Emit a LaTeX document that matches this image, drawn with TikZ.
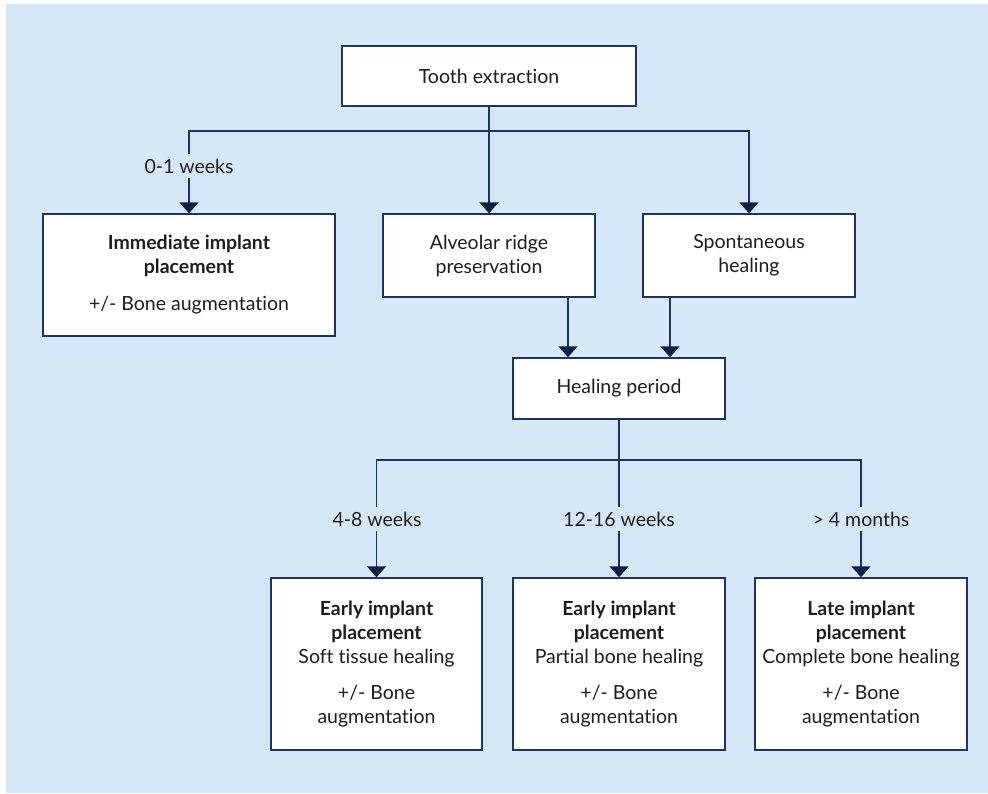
\documentclass[tikz,border=0pt]{standalone}
\usepackage{fontspec}
\setmainfont[Ligatures = NoCommon]{Lato}
\usetikzlibrary{positioning}
\usetikzlibrary{arrows.meta}

\definecolor{bgblue}{RGB}{214,232,248}
\definecolor{navy}{RGB}{30,52,96}
\definecolor{tipnavy}{RGB}{12,32,70}
\definecolor{txtgray}{RGB}{30,30,30}

\tikzset{
	stagebox/.style={draw = navy, line width = 1.4pt, fill = white, text = txtgray, align = center, inner sep = 0pt, font = \fontsize{19.5}{24}\selectfont},
	flowline/.style={navy, line width = 1.6pt},
	flowarrow/.style={flowline, -{Triangle[width = 19pt, length = 11pt, color = tipnavy]}},
	timelabel/.style={fill = bgblue, text = txtgray, inner xsep = 3pt, inner ysep = 5pt, font = \fontsize{19.5}{24}\selectfont}
}

\begin{document}
\begin{tikzpicture}[x = 1pt, y = -1pt]
							\useasboundingbox (0, 0) rectangle (988, 793);
							\fill[bgblue] (6, 4) rectangle (988, 793);
							\node[stagebox, minimum width = 294pt, minimum height = 60pt] (tooth) at (489, 76) {Tooth extraction};
							\node[stagebox, minimum width = 292pt, minimum height = 122pt] (immed) at (189, 275) {\textbf{Immediate implant}\\\textbf{placement}\\[13pt]+/- Bone augmentation};
							\node[stagebox, minimum width = 212pt, minimum height = 83pt] (ridge) at (489, 255.5) {Alveolar ridge\\preservation};
							\node[stagebox, minimum width = 212pt, minimum height = 83pt] (spont) at (749, 255.5) {Spontaneous\\healing};
							\node[stagebox, minimum width = 212pt, minimum height = 61pt] (heal) at (619, 388.5) {Healing period};
							\node[stagebox, minimum width = 211pt, minimum height = 172pt] (early1) at (376.5, 664) {\textbf{Early implant}\\\textbf{placement}\\Soft tissue healing\\[12pt]+/- Bone\\augmentation};
							\node[stagebox, minimum width = 212pt, minimum height = 172pt] (early2) at (619, 664) {\textbf{Early implant}\\\textbf{placement}\\Partial bone healing\\[12pt]+/- Bone\\augmentation};
							\node[stagebox, minimum width = 212pt, minimum height = 172pt] (late) at (861, 664) {\textbf{Late implant}\\\textbf{placement}\\Complete bone healing\\[12pt]+/- Bone\\augmentation};
							\coordinate (split1) at (489, 131);
							\coordinate (split2) at (619, 460);
							\draw[flowarrow] (tooth) -- (ridge);
							\draw[flowarrow] (split1) -| (immed.north);
							\draw[flowarrow] (split1) -| (spont.north);
							\draw[flowarrow] ([xshift = -51pt]heal.north |- ridge.south) -- ([xshift = -51pt]heal.north);
							\draw[flowarrow] ([xshift = 51pt]heal.north |- spont.south) -- ([xshift = 51pt]heal.north);
							\draw[flowarrow] (heal) -- (early2);
							\draw[flowarrow] (split2) -| (early1.north);
							\draw[flowarrow] (split2) -| (late.north);
							\node[timelabel] (wk01) at (189, 166) {0-1 weeks};
							\node[timelabel] (wk48) at (377, 519) {4-8 weeks};
							\node[timelabel] (wk1216) at (619, 519) {12-16 weeks};
							\node[timelabel] (mo4) at (861, 519) {> 4 months};
						\end{tikzpicture}
\end{document}
